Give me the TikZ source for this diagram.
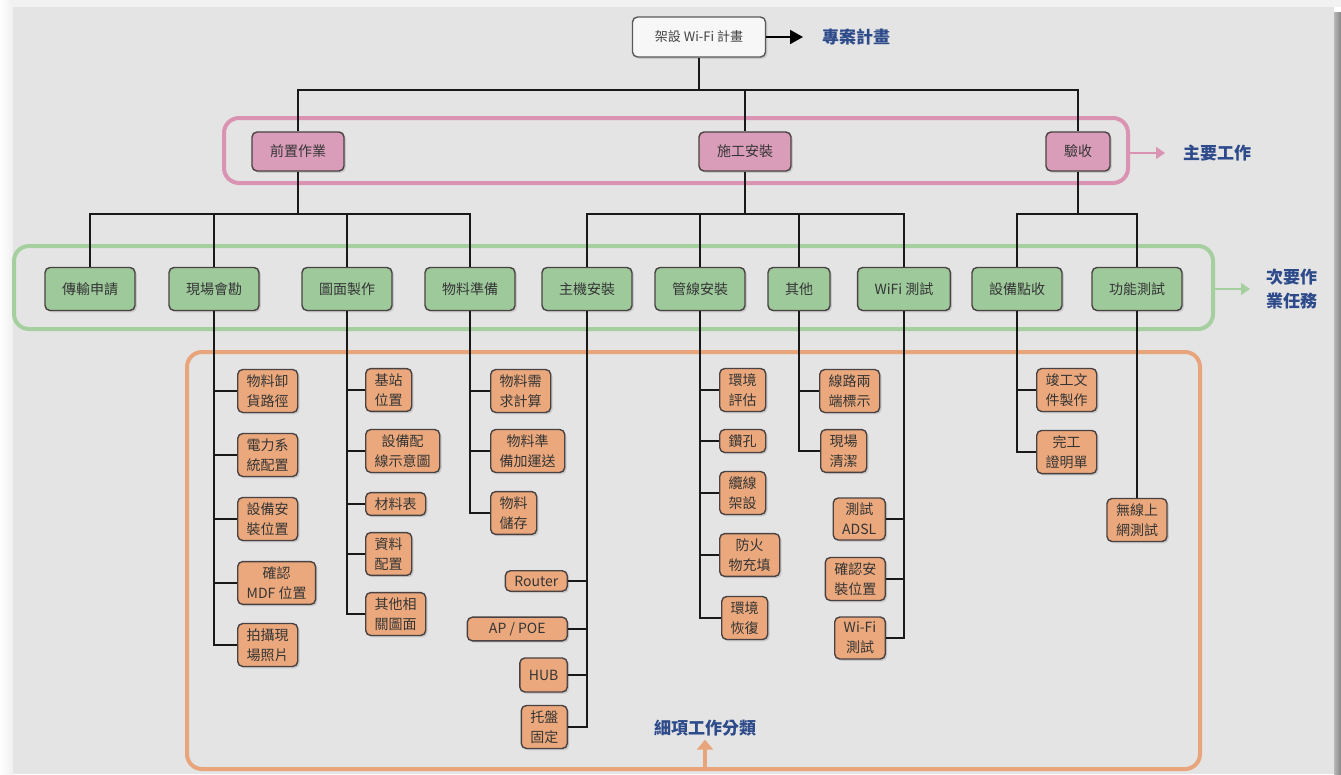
\documentclass[tikz,border=0pt]{standalone}
\usepackage{fontspec}
\setmainfont{Noto Sans CJK TC}
\usetikzlibrary{arrows.meta,shadows}
\definecolor{panel}{HTML}{E4E4E4}
\definecolor{pinkline}{HTML}{DA93B3}
\definecolor{pinkfill}{HTML}{DA9DB9}
\definecolor{greenline}{HTML}{A6CFA0}
\definecolor{greenfill}{HTML}{9DC99B}
\definecolor{orgline}{HTML}{E8A47B}
\definecolor{orgfill}{HTML}{EAA87C}
\definecolor{nodeborder}{HTML}{4A4242}
\definecolor{txt}{HTML}{353535}
\definecolor{lblblue}{HTML}{2D4A8A}
\tikzset{
  box/.style={draw=nodeborder, line width=1.4pt, rounded corners=5pt, text=txt, align=center,
    font=\fontsize{14}{20}\selectfont,
    drop shadow={shadow xshift=1.8pt, shadow yshift=-1.8pt, opacity=0.28}},
  mainbox/.style={box, fill=pinkfill, minimum height=39pt, inner xsep=18pt},
  subbox/.style={box, fill=greenfill, minimum height=43pt, inner xsep=17pt},
  detbox/.style={box, fill=orgfill, inner xsep=9pt, inner ysep=5pt},
  wire/.style={draw=black!90, line width=1.8pt},
  container/.style={line width=4pt, rounded corners=15pt},
  lbl/.style={text=lblblue, font=\fontsize{17}{24}\selectfont\bfseries, align=center},
}
\begin{document}
\begin{tikzpicture}[x=1pt,y=-1pt]
% background
\fill[white] (0,0) rectangle (1341,774);
\shade[left color=white, right color=black!6] (0,0) rectangle (13,774);
\fill[black!5] (13,0) rectangle (1341,7);
\fill[panel] (13,7) rectangle (1334,774);
\shade[left color=black!28, right color=black!48] (1334,12) rectangle (1341,774);
\useasboundingbox (0,0) rectangle (1341,774);

% containers
\node[container, draw=pinkline, minimum width=904pt, minimum height=65pt] (pinkbox) at (676,150.5) {};
\node[container, draw=greenline, minimum width=1199pt, minimum height=83pt] (greenbox) at (613.5,287.5) {};
\node[container, draw=orgline, minimum width=1013pt, minimum height=417pt] (orgbox) at (693.5,560.5) {};

% top
\node[box, fill=black!3, draw=black!65, minimum width=133pt, minimum height=40pt, font=\fontsize{13}{16}\selectfont, text=black!75] (top) at (699,37) {架設 Wi-Fi 計畫};
\node[lbl, anchor=west, inner xsep=19pt] (l1) at (803,37) {專案計畫};

% level 2
\node[mainbox] (pre) at (298,151.5) {前置作業};
\node[mainbox] (con) at (745,151.5) {施工安裝};
\node[mainbox] (acc) at (1078,151.5) {驗收};
\node[lbl, anchor=west, inner xsep=18pt] (l2) at (1165,153) {主要工作};

% level 3
\node[subbox] (s1) at (90,289) {傳輸申請};
\node[subbox] (s2) at (214,289) {現場會勘};
\node[subbox] (s3) at (347,289) {圖面製作};
\node[subbox] (s4) at (470,289) {物料準備};
\node[subbox] (s5) at (587,289) {主機安裝};
\node[subbox] (s6) at (700,289) {管線安裝};
\node[subbox] (s7) at (799,289) {其他};
\node[subbox] (s8) at (904,289) {WiFi 測試};
\node[subbox] (s9) at (1017,289) {設備點收};
\node[subbox] (s10) at (1137,289) {功能測試};
\node[lbl, anchor=west, inner xsep=16pt] (l3) at (1250,289) {次要作\\業任務};

% details
\node[detbox, anchor=west] (d21) at (237,391) {物料卸\\貨路徑};
\node[detbox, anchor=west] (d22) at (237,455) {電力系\\統配置};
\node[detbox, anchor=west] (d23) at (237,519) {設備安\\裝位置};
\node[detbox, anchor=west] (d24) at (237,583) {確認\\MDF 位置};
\node[detbox, anchor=west] (d25) at (237,645) {拍攝現\\場照片};

\node[detbox, anchor=west] (d31) at (365,390) {基站\\位置};
\node[detbox, anchor=west] (d32) at (365,451) {設備配\\線示意圖};
\node[detbox, anchor=west] (d33) at (365,504) {材料表};
\node[detbox, anchor=west] (d34) at (365,554) {資料\\配置};
\node[detbox, anchor=west] (d35) at (365,614) {其他相\\關圖面};

\node[detbox, anchor=west] (d41) at (490,391) {物料需\\求計算};
\node[detbox, anchor=west] (d42) at (490,451) {物料準\\備加運送};
\node[detbox, anchor=west] (d43) at (490,513) {物料\\儲存};

\node[detbox, anchor=east] (d51) at (568,581) {Router};
\node[detbox, anchor=east, minimum width=100pt] (d52) at (568,629) {AP / POE};
\node[detbox, anchor=east, minimum height=34pt] (d53) at (568,675) {HUB};
\node[detbox, anchor=east] (d54) at (568,727) {托盤\\固定};

\node[detbox, anchor=west] (d61) at (719,390) {環境\\評估};
\node[detbox, anchor=west] (d62) at (719,441) {鑽孔};
\node[detbox, anchor=west] (d63) at (719,493) {纜線\\架設};
\node[detbox, anchor=west] (d64) at (719,555) {防火\\物充填};
\node[detbox, anchor=west] (d65) at (721,618) {環境\\恢復};

\node[detbox, anchor=west] (d71) at (819,391) {線路兩\\端標示};
\node[detbox, anchor=west] (d72) at (820,451) {現場\\清潔};

\node[detbox, anchor=east] (d81) at (886,519) {測試\\ADSL};
\node[detbox, anchor=east] (d82) at (886,579) {確認安\\裝位置};
\node[detbox, anchor=east] (d83) at (886,638) {Wi-Fi\\測試};

\node[detbox, anchor=west] (d91) at (1036,390) {竣工文\\件製作};
\node[detbox, anchor=west] (d92) at (1036,452) {完工\\證明單};

\node[detbox] (d101) at (1137,520) {無線上\\網測試};

\node[lbl] (l4) at (705,728) {細項工作分類};

% junctions
\coordinate (tj) at (699,90);
\coordinate (prej) at (298,214);
\coordinate (conj) at (745,214);
\coordinate (accj) at (1078,214);

% wires
\draw[wire] (top) -- (tj);
\foreach \n in {pre,con,acc} \draw[wire] (tj) -| (\n.north);
\draw[wire] (pre) -- (prej);
\draw[wire] (con) -- (conj);
\draw[wire] (acc) -- (accj);
\foreach \n in {s1,s2,s3,s4} \draw[wire] (prej) -| (\n.north);
\foreach \n in {s5,s6,s7,s8} \draw[wire] (conj) -| (\n.north);
\foreach \n in {s9,s10} \draw[wire] (accj) -| (\n.north);

\foreach \n in {d21,d22,d23,d24,d25} \draw[wire] (s2.south) |- (\n.west);
\foreach \n in {d31,d32,d33,d34,d35} \draw[wire] (s3.south) |- (\n.west);
\foreach \n in {d41,d42,d43} \draw[wire] (s4.south) |- (\n.west);
\foreach \n in {d51,d52,d53,d54} \draw[wire] (s5.south) |- (\n.east);
\foreach \n in {d61,d62,d63,d64,d65} \draw[wire] (s6.south) |- (\n.west);
\foreach \n in {d71,d72} \draw[wire] (s7.south) |- (\n.west);
\foreach \n in {d81,d82,d83} \draw[wire] (s8.south) |- (\n.east);
\foreach \n in {d91,d92} \draw[wire] (s9.south) |- (\n.west);
\draw[wire] (s10.south) -- (d101.north);

% label arrows
\draw[line width=2pt, -{Triangle[length=13pt,width=14pt]}] (top.east) -- (l1.west);
\draw[pinkline, line width=1.6pt, -{Triangle[length=9pt,width=12pt]}] (pinkbox.east |- l2.west) -- (l2.west);
\draw[greenline, line width=1.6pt, -{Triangle[length=9pt,width=12pt]}] (greenbox.east |- l3.west) -- (l3.west);
\draw[orgline, line width=3.5pt, -{Triangle[length=10pt,width=16pt]}] (orgbox.south -| l4.south) -- (l4.south);
\end{tikzpicture}
\end{document}
